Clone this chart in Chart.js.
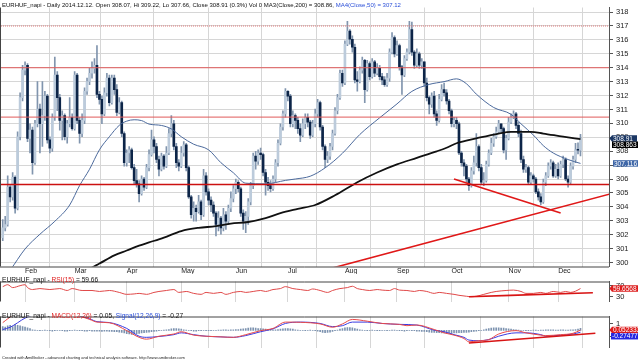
<!DOCTYPE html>
<html>
<head>
<meta charset="utf-8">
<script src="https://cdn.jsdelivr.net/npm/chart.js@4.4.1/dist/chart.umd.min.js"></script>
<style>
  html, body { margin: 0; padding: 0; background: #fff; }
  #wrap { position: relative; width: 638px; height: 362px; overflow: hidden; background: #fff;
          font-family: "Liberation Sans", Arial, sans-serif; }
  canvas { position: absolute; left: 0; }
  .ttl { position: absolute; left: 2px; font-size: 6.6px; line-height: 7px; color: #111; white-space: nowrap; }
  .main { font-size: 6px; }
  .red { color: #e02020; }
  .blue { color: #2b4fd8; }
  .foot { position: absolute; left: 2px; top: 355px; font-size: 8px; color: #222; white-space: nowrap;
          transform: scale(0.5); transform-origin: 0 0; }
</style>
</head>
<body>
<div id="wrap">
  <canvas id="cMain" width="638" height="274" style="top:0"></canvas>
  <canvas id="cRsi" width="638" height="35" style="top:274px"></canvas>
  <canvas id="cMacd" width="638" height="46" style="top:309px"></canvas>
  <div class="ttl main" style="top:2px">EURHUF_napi - Daily 2014.12.12. Open 308.07, Hi 309.22, Lo 307.66, Close 308.91 (0.3%) Vol 0 MA3(Close,200) = 308.86, <span class="blue">MA4(Close,50) = 307.12</span></div>
  <div class="ttl" style="top:275.5px">EURHUF_napi - <span class="red">RSI(15)</span> = 59.66</div>
  <div class="ttl" style="top:311.5px">EURHUF_napi - <span class="red">MACD(12,26)</span> = 0.05, <span class="blue">Signal(12,26,9)</span> = -0.27</div>
  <div class="foot">Created with AmiBroker - advanced charting and technical analysis software. http://www.amibroker.com</div>
</div>
<script>
// ── Data ─────────────────────────────────────────────────────
// day index 0 = 2014-01-21, last = 2014-12-12
const monthLabels = ['Feb', 'Mar', 'Apr', 'May', 'Jun', 'Jul', 'Aug', 'Sep', 'Oct', 'Nov', 'Dec'];
const monthStart = [9, 29, 50, 72, 94, 115, 138, 159, 181, 204, 224];
const priceTicks = [300, 301, 302, 303, 304, 305, 306, 307, 308, 309, 310, 311, 312, 313, 314, 315, 316, 317, 318];

const firstOpen = 301.79;
const closes = [
  302.49, 302.73, 305.42, 304.71, 306.12, 303.90, 309.04, 311.85, 313.83, 314.18,
  308.92, 309.51, 307.17, 309.97, 311.03, 309.97, 310.56, 311.96, 308.81, 308.22,
  310.44, 313.48, 311.85, 310.21, 310.56, 309.04, 309.97, 310.44, 309.62, 313.48,
  310.21, 309.27, 310.21, 312.31, 313.01, 313.60, 313.95, 314.18, 312.08, 311.73,
  310.68, 312.20, 313.25, 311.49, 313.25, 312.43, 310.79, 311.49, 309.27, 307.17,
  307.87, 308.10, 306.82, 305.88, 305.65, 304.95, 306.00, 305.42, 306.82, 307.75,
  308.81, 308.34, 307.40, 306.70, 307.64, 306.93, 307.87, 309.27, 309.97, 308.34,
  307.17, 306.93, 307.87, 308.45, 306.82, 304.71, 303.43, 303.90, 303.66, 304.36,
  303.43, 306.23, 305.07, 304.48, 304.13, 303.55, 302.73, 303.19, 302.49, 303.43,
  302.96, 303.90, 304.60, 305.30, 305.77, 305.30, 303.55, 302.96, 303.31, 304.36,
  305.53, 307.64, 307.29, 307.87, 307.75, 306.47, 305.77, 305.53, 305.30, 306.00,
  307.17, 308.57, 309.74, 310.68, 312.31, 311.96, 309.97, 310.56, 310.21, 309.62,
  309.16, 309.97, 310.44, 310.09, 309.16, 309.97, 310.68, 311.49, 309.74, 308.34,
  307.40, 307.64, 308.34, 309.27, 310.91, 311.85, 313.60, 312.90, 315.70, 316.64,
  316.05, 315.47, 313.13, 313.01, 313.83, 314.53, 312.43, 314.30, 313.36, 314.42,
  313.60, 313.95, 313.36, 313.13, 312.78, 313.25, 315.12, 316.17, 315.00, 315.59,
  314.07, 313.48, 314.65, 315.12, 316.75, 315.12, 314.18, 315.00, 314.18, 314.42,
  312.90, 311.85, 311.38, 311.96, 310.68, 310.21, 311.73, 312.43, 312.20, 311.61,
  310.91, 309.97, 310.21, 309.97, 307.87, 307.17, 306.93, 306.00, 305.53, 306.58,
  307.17, 308.34, 306.82, 305.77, 305.88, 307.05, 307.87, 308.57, 309.04, 309.39,
  309.97, 309.62, 308.10, 308.92, 310.09, 310.44, 310.68, 309.86, 309.27, 307.40,
  306.70, 306.82, 305.77, 306.23, 306.00, 305.07, 304.71, 304.36, 305.77, 306.23,
  306.93, 307.17, 306.23, 306.70, 306.23, 307.05, 307.40, 306.00, 305.77, 306.93,
  307.40, 308.10, 308.07, 308.91
];
const highs = [
  303.08, 303.31, 306.23, 305.53, 306.47, 306.23, 309.39, 312.20, 314.18, 314.42,
  314.30, 309.97, 309.74, 310.21, 313.01, 311.38, 313.01, 312.31, 312.08, 309.04,
  310.68, 314.77, 313.72, 312.08, 310.91, 310.68, 310.21, 311.85, 310.68, 313.72,
  313.60, 310.44, 310.68, 312.55, 313.25, 313.95, 314.42, 314.65, 315.59, 312.31,
  311.96, 312.55, 313.60, 313.48, 313.48, 313.48, 312.78, 311.85, 311.61, 309.39,
  308.10, 308.34, 308.22, 307.05, 306.70, 305.88, 306.23, 306.12, 307.05, 308.10,
  309.51, 309.04, 308.57, 307.64, 307.87, 307.75, 308.34, 309.62, 310.56, 310.21,
  308.57, 307.40, 308.34, 308.69, 308.57, 306.93, 304.83, 304.36, 304.13, 304.83,
  304.48, 306.70, 306.47, 305.30, 304.71, 304.36, 303.66, 303.66, 303.31, 303.90,
  303.66, 304.13, 305.07, 305.53, 306.00, 305.88, 305.42, 303.78, 303.66, 304.60,
  305.77, 307.87, 307.99, 308.10, 308.22, 307.87, 306.70, 306.12, 305.88, 306.23,
  307.40, 308.81, 309.97, 310.91, 312.50, 312.36, 312.08, 310.91, 310.68, 310.44,
  309.97, 310.33, 310.68, 310.68, 310.21, 310.21, 311.03, 311.73, 311.61, 309.86,
  308.45, 307.99, 308.57, 309.51, 311.14, 312.08, 313.83, 313.83, 315.94, 317.34,
  316.75, 316.29, 315.70, 313.72, 314.07, 314.77, 314.60, 314.53, 314.42, 314.65,
  314.53, 314.30, 314.18, 313.60, 313.36, 313.60, 315.35, 316.52, 316.29, 315.94,
  315.70, 314.18, 314.88, 315.35, 317.34, 317.29, 315.24, 315.35, 315.12, 314.65,
  314.42, 313.25, 311.96, 312.20, 312.31, 310.91, 312.08, 312.78, 312.90, 312.43,
  311.73, 311.03, 310.44, 310.44, 310.09, 307.99, 307.40, 307.05, 306.12, 306.82,
  307.64, 309.27, 308.45, 307.05, 306.47, 307.29, 308.10, 308.92, 309.27, 309.74,
  310.21, 309.97, 309.74, 309.16, 310.44, 310.68, 310.91, 310.79, 310.09, 309.51,
  307.64, 307.05, 306.93, 306.47, 306.35, 306.12, 305.30, 304.95, 306.00, 306.47,
  307.17, 307.40, 307.29, 307.05, 307.17, 307.29, 307.64, 307.52, 306.23, 307.17,
  307.64, 308.57, 308.60, 309.22
];
const lows = [
  301.56, 302.26, 302.61, 304.36, 304.48, 303.55, 303.78, 308.81, 311.61, 313.48,
  308.69, 307.87, 306.35, 307.05, 309.74, 307.87, 308.34, 310.21, 308.57, 307.87,
  307.99, 310.21, 310.91, 309.51, 308.81, 308.81, 308.57, 309.74, 309.51, 309.51,
  309.97, 308.57, 309.04, 309.97, 312.08, 312.78, 313.25, 313.60, 311.85, 311.38,
  309.97, 310.56, 311.96, 311.26, 311.38, 312.08, 310.56, 310.68, 309.04, 306.93,
  306.93, 307.17, 306.70, 305.65, 305.42, 304.36, 304.83, 305.18, 305.30, 306.58,
  307.64, 307.87, 307.17, 306.23, 306.58, 306.70, 306.82, 307.75, 309.04, 308.10,
  306.82, 306.58, 306.82, 307.64, 306.58, 304.60, 303.19, 302.96, 302.96, 303.55,
  303.08, 303.31, 304.83, 304.13, 303.66, 303.31, 301.91, 302.26, 302.03, 302.26,
  302.38, 302.73, 303.66, 304.36, 304.95, 305.07, 303.31, 302.38, 302.14, 302.73,
  304.13, 305.30, 306.70, 307.05, 307.40, 306.23, 304.83, 305.18, 305.07, 305.18,
  305.77, 306.93, 308.45, 309.51, 310.44, 311.61, 309.74, 309.74, 309.62, 309.27,
  308.69, 309.04, 309.62, 309.74, 308.92, 309.04, 309.74, 310.44, 309.51, 308.10,
  306.82, 307.17, 307.40, 308.10, 309.16, 310.68, 311.73, 312.66, 312.78, 315.59,
  315.70, 315.12, 312.90, 312.31, 312.90, 313.60, 311.49, 312.31, 313.13, 313.25,
  313.36, 313.48, 313.13, 312.78, 312.66, 312.66, 313.01, 315.00, 314.77, 314.88,
  313.83, 312.08, 313.36, 314.53, 315.00, 314.88, 313.95, 314.07, 313.95, 313.95,
  312.66, 311.61, 310.68, 311.14, 310.44, 309.86, 310.09, 311.61, 311.96, 311.38,
  310.68, 309.74, 309.74, 309.62, 307.75, 306.93, 306.23, 305.77, 305.18, 305.42,
  306.35, 306.93, 306.58, 305.65, 305.53, 305.77, 306.93, 307.75, 308.34, 308.92,
  309.27, 309.39, 307.87, 307.40, 308.81, 309.97, 310.33, 309.62, 309.04, 307.17,
  306.47, 306.47, 305.65, 305.65, 305.77, 304.95, 304.48, 304.13, 304.25, 305.53,
  306.12, 306.70, 306.12, 306.12, 306.00, 306.12, 306.82, 305.88, 305.42, 305.65,
  306.70, 307.17, 307.80, 307.66
];

// moving averages: [day, value]
const ma200 = [[32, 299.30], [34, 299.45], [39, 299.92], [45, 300.51], [50, 300.86], [55, 301.21], [59, 301.44],
  [65, 301.79], [72, 302.26], [79, 302.49], [86, 302.61], [92, 302.80], [99, 302.91], [106, 303.19], [112, 303.55],
  [119, 303.85], [126, 304.13], [134, 304.83], [143, 305.77], [151, 306.47], [159, 307.05], [167, 307.52],
  [175, 307.99], [179, 308.25], [183, 308.57], [191, 308.92], [200, 309.27], [205, 309.39], [213, 309.39],
  [218, 309.27], [226, 309.04], [233, 308.86]];
const ma50 = [[0, 298.80], [3, 299.45], [9, 300.97], [15, 302.03], [21, 302.96], [27, 304.13], [31, 305.53],
  [35, 306.70], [39, 308.10], [43, 309.04], [47, 309.86], [50, 310.16], [53, 310.26], [56, 310.20], [59, 309.95],
  [64, 309.85], [68, 309.60], [72, 309.04], [77, 308.50], [83, 308.10], [88, 307.17], [93, 306.45], [98, 305.70],
  [106, 305.65], [114, 305.90], [118, 306.00], [124, 306.20], [130, 306.80], [137, 307.85], [144, 309.20],
  [152, 310.40], [159, 311.40], [165, 312.30], [172, 312.80], [178, 313.00], [183, 313.20], [187, 312.85],
  [191, 312.10], [198, 311.14], [205, 310.65], [209, 309.97], [214, 309.16], [218, 308.40], [222, 307.87],
  [228, 307.40], [233, 307.12]];

const levelDotted = 317;
const levelThin = [314, 310.45];
const levelThick = 305.6;
const trendUp = [[130, 299.46], [245, 304.93]];
const trendDown = [[182, 306.0], [225, 303.55]];

const rsiTicks = [70, 30];
const rsi = [[0, 66.5], [2, 73.6], [4, 63], [7, 70], [9, 73.6], [10, 63], [12, 56], [15, 59.5], [19, 56], [23, 59.5],
  [26, 52.5], [28, 59.5], [32, 52.5], [36, 52.5], [39, 49], [43, 52.5], [47, 45.5], [50, 38.5], [53, 40], [55, 42],
  [58, 38.5], [61, 45.5], [63, 49], [66, 52.5], [69, 56], [71, 45.5], [74, 49], [77, 42], [80, 38.5], [82, 45.5],
  [85, 42], [88, 45.5], [90, 38.5], [93, 45.5], [96, 49], [98, 45.5], [101, 49], [104, 52.5], [106, 49], [109, 56],
  [112, 59.5], [114, 66.5], [117, 59.5], [120, 56], [123, 52.5], [125, 58], [128, 52.5], [131, 45.5], [133, 52.5],
  [136, 59.5], [139, 63], [141, 68], [143, 59.5], [145, 56], [148, 52.5], [151, 56], [153, 54], [156, 52.5],
  [158, 59.5], [160, 54], [163, 52.5], [166, 49], [168, 52.5], [171, 49], [174, 42], [176, 45.5], [179, 42],
  [182, 38.5], [184, 35], [187, 31.5], [189, 30], [191, 31.5], [194, 38.5], [197, 45.5], [199, 49], [203, 52.5],
  [206, 54], [209, 49], [211, 42], [214, 42], [217, 45.5], [219, 42], [222, 49], [225, 45.5], [227, 49],
  [229, 45.5], [231, 50], [233, 59.66]];
const rsiTrend = [[188, 30], [238, 44.1]];

const macdTicks = [1, 0, -1, -2];
const macd = [[0, 1.2], [4, 2.3], [8, 2.9], [14, 2.9], [22, 2.8], [30, 2.3], [35, 1.7], [38, 1.28], [43, 1.18],
  [50, -0.03], [55, -1.06], [58, -1.34], [63, -0.89], [69, -0.55], [72, -0.2], [77, -0.72], [82, -0.89],
  [88, -0.99], [93, -1.06], [98, -0.65], [104, -0.03], [109, 0.31], [114, 1.28], [120, 1.25], [128, 1.0],
  [133, 0.49], [137, 1.0], [141, 1.69], [147, 1.42], [153, 1.07], [160, 0.93], [163, 0.73], [167, 0.83],
  [174, 0.14], [178, -0.37], [182, -0.72], [186, -1.24], [188, -1.75], [192, -1.58], [196, -1.41], [200, -0.55],
  [207, -0.03], [211, -0.37], [217, -0.72], [219, -0.79], [225, -0.65], [230, -0.44], [233, 0.05]];
const signal = [[0, 0.14], [3, 0.49], [6, 1.18], [9, 1.9], [14, 2.5], [22, 2.7], [30, 2.3], [35, 1.8], [38, 1.35],
  [43, 1.21], [50, 0.31], [55, -0.89], [58, -1.06], [63, -0.93], [69, -0.65], [72, -0.37], [77, -0.65],
  [82, -0.89], [88, -0.99], [93, -1.06], [98, -0.79], [104, -0.2], [109, 0.25], [114, 1.07], [120, 1.28],
  [128, 1.07], [133, 0.59], [137, 0.73], [141, 1.28], [147, 1.28], [153, 1.07], [160, 0.93], [167, 0.83],
  [174, 0.04], [178, -0.2], [182, -0.65], [186, -1.06], [188, -1.48], [192, -1.58], [196, -1.41], [200, -0.89],
  [207, -0.37], [211, -0.37], [217, -0.65], [219, -0.89], [225, -0.72], [230, -0.55], [233, -0.27]];
const macdHist = [
  0.6, 0.5, 0.7, 0.8, 0.6, 0.9, 0.8, 0.7, 0.6, 0.5, 0.4, 0.3,
  0.1, 0.05, 0, -0.05, 0, 0.05, 0, -0.05, -0.1, -0.05, 0, 0, -0.05, -0.1, -0.1, -0.05, 0, 0.05, 0, -0.05,
  -0.05, -0.1, -0.1, -0.05, -0.1, -0.1,
  -0.1, -0.1, -0.15, -0.1, -0.1, -0.15, -0.15, -0.2, -0.2, -0.25, -0.3,
  -0.4, -0.5, -0.55, -0.6, -0.55, -0.5, -0.45, -0.4, -0.35,
  -0.3, -0.25, -0.2, -0.15, -0.1, -0.05, 0, 0.05, 0.1, 0.15,
  0.25, 0.3, 0.3, 0.25, 0.2,
  0.1, 0.05, 0, -0.05, -0.1, -0.1, -0.05, -0.05, 0, -0.05, -0.05, -0.05, 0, 0,
  0.05, 0.05, 0.1, 0.1, 0.05, 0.1, 0.1, 0.15, 0.15,
  0.2, 0.25, 0.3, 0.35, 0.4, 0.4, 0.35, 0.3, 0.3, 0.25, 0.2,
  0.15, 0.1, 0.1, 0.1, 0.15, 0.2,
  0.25, 0.3, 0.3, 0.25, 0.2, 0.1, 0.05, 0,
  0, -0.05, 0, 0.05, 0, -0.05, -0.1,
  -0.2, -0.3, -0.35, -0.3, -0.25, -0.15, -0.05, 0.05,
  0.2, 0.3, 0.4, 0.45, 0.45, 0.4, 0.3, 0.2, 0.1,
  0.05, 0, -0.05, 0, 0.05, 0, -0.05, -0.05, 0, 0, -0.05, 0, 0.05, 0.05, 0,
  -0.05, -0.05, -0.1, -0.05, 0, -0.05, -0.05, -0.1, -0.1, -0.15, -0.15,
  -0.2, -0.25, -0.3, -0.3, -0.35, -0.35, -0.4, -0.4, -0.45, -0.45, -0.45, -0.4, -0.4, -0.35, -0.35, -0.3, -0.3,
  -0.25, -0.2, -0.15, -0.1, -0.05,
  0, 0.1, 0.2,
  0.3, 0.35, 0.4, 0.4, 0.4, 0.35, 0.35, 0.3, 0.25, 0.2, 0.15, 0.1, 0.05,
  0, 0, -0.05, -0.05, 0, 0.05, 0.05, 0, 0.05, 0.05, 0.1, 0.1, 0.1,
  0.1, 0.05, 0.05, 0.1, 0.1, 0.05, 0.05, 0.1, 0.1, 0.15, 0.2, 0.32
];
const macdTrend = [[188, -1.92], [239, -0.44]];

// ── Helpers ──────────────────────────────────────────────────
Chart.defaults.font.family = '"Liberation Sans", Arial, sans-serif';
const GRID = '#d6d6d6', AXIS = '#555';
const X_MIN = -0.7, X_MAX = 244.5;
const pts = arr => arr.map(([x, y]) => ({ x, y }));
const line = (data, color, width, order, extra) => Object.assign({
  type: 'line', data: pts(data), borderColor: color, borderWidth: width, pointRadius: 0,
  tension: 0.4, cubicInterpolationMode: 'monotone', order, fill: false
}, extra || {});
const hline = (v, color, width, order, dash) => line([[X_MIN, v], [X_MAX, v]], color, width, order, { tension: 0, borderDash: dash || [] });

function xScale(showLabels) {
  return {
    type: 'linear', min: X_MIN, max: X_MAX, offset: false,
    afterBuildTicks: s => { s.ticks = monthStart.map(v => ({ value: v })); },
    ticks: { display: showLabels, autoSkip: false, maxRotation: 0, align: 'start', padding: 0,
             font: { size: 7 }, color: '#222', callback: (v, i) => monthLabels[i] },
    grid: { color: GRID, drawTicks: false },
    border: { display: false },
    afterFit: s => { s.height = showLabels ? 7.5 : 0; }
  };
}
function yScale(min, max, ticks, showGrid) {
  return {
    type: 'linear', position: 'right', min, max,
    afterBuildTicks: s => { s.ticks = ticks.map(v => ({ value: v })); },
    ticks: { font: { size: 7.5 }, color: '#222', padding: 3 },
    grid: { color: showGrid ? GRID : 'rgba(0,0,0,0)', tickColor: AXIS, tickLength: 4 },
    border: { display: true, color: AXIS },
    afterFit: s => { s.width = 29; }
  };
}

const badgePlugin = {
  id: 'badges',
  afterDraw(chart, args, opts) {
    const { ctx, chartArea, scales } = chart;
    (opts.items || []).forEach(b => {
      const y = scales.y.getPixelForValue(b.v) + (b.dy || 0);
      const bx = chartArea.right + b.x;
      const h = 6.5;
      ctx.save();
      ctx.fillStyle = b.bg;
      ctx.beginPath();
      if (b.arrow) {
        ctx.moveTo(chartArea.right + 0.5, y);
        ctx.lineTo(bx, y - h / 2); ctx.lineTo(bx + b.w, y - h / 2);
        ctx.lineTo(bx + b.w, y + h / 2); ctx.lineTo(bx, y + h / 2);
        ctx.closePath();
      } else {
        ctx.rect(bx, y - h / 2, b.w, h);
      }
      ctx.fill();
      ctx.fillStyle = b.fg;
      ctx.font = '6.5px "Liberation Sans", Arial, sans-serif';
      ctx.textBaseline = 'middle';
      ctx.fillText(b.text, bx + 1, y + 0.5);
      ctx.restore();
    });
  }
};
const framePlugin = {
  id: 'frame',
  afterDraw(chart, args, opts) {
    const { ctx, chartArea: a } = chart;
    ctx.save();
    ctx.strokeStyle = '#444';
    ctx.lineWidth = 1;
    ctx.beginPath();
    ctx.moveTo(0.5, a.top); ctx.lineTo(0.5, a.bottom);
    if (opts.top) { ctx.moveTo(0, a.top + 0.5); ctx.lineTo(a.right, a.top + 0.5); }
    if (opts.bottom) { ctx.moveTo(0, a.bottom + 0.5); ctx.lineTo(a.right, a.bottom + 0.5); }
    ctx.stroke();
    ctx.restore();
  }
};

const baseOpts = (padTop) => ({
  responsive: false, animation: false, events: [],
  layout: { padding: { left: 1, top: padTop, right: 0, bottom: 0 } }
});

// ── Main price chart ─────────────────────────────────────────
const opens = [firstOpen].concat(closes.slice(0, -1));
const UP = '#bccbdb', DOWN = '#0d2548', WICK = '#8195ae';
new Chart(document.getElementById('cMain'), {
  type: 'bar',
  data: {
    datasets: [
      hline(levelDotted, '#e27a7a', 1, 0, [1, 1]),
      hline(levelThin[0], '#e05a5a', 1, 0),
      hline(levelThin[1], '#e05a5a', 1, 0),
      hline(levelThick, '#cc1010', 1.6, 0),
      line(trendUp, '#e01818', 1.6, 0, { tension: 0 }),
      line(trendDown, '#e01818', 1.6, 0, { tension: 0 }),
      line(ma200, '#111', 1.8, 1),
      line(ma50, '#4c6a9c', 1, 1),
      { type: 'bar', data: closes.map((c, i) => ({ x: i, y: [opens[i], c] })),
        backgroundColor: closes.map((c, i) => c >= opens[i] ? UP : DOWN),
        barThickness: 2, minBarLength: 1, grouped: false, order: 2 },
      { type: 'bar', data: highs.map((h, i) => ({ x: i, y: [lows[i], h] })),
        backgroundColor: WICK, barThickness: 1, grouped: false, order: 3 }
    ]
  },
  options: Object.assign(baseOpts(1), {
    plugins: {
      legend: { display: false }, tooltip: { enabled: false },
      frame: { bottom: true },
      badges: { items: [
        { v: closes[closes.length - 1], text: '308.91', bg: '#1b3764', fg: '#fff', arrow: true, x: 3, w: 25 },
        { v: ma200[ma200.length - 1][1], text: '308.863', bg: '#000', fg: '#fff', x: 3, w: 26, dy: 5.5 },
        { v: ma50[ma50.length - 1][1], text: '307.116', bg: '#3f67a8', fg: '#fff', x: 4, w: 25 }
      ] }
    },
    scales: { x: xScale(true), y: yScale(299.71, 318.33, priceTicks, true) }
  }),
  plugins: [badgePlugin, framePlugin]
});

// ── RSI ──────────────────────────────────────────────────────
new Chart(document.getElementById('cRsi'), {
  type: 'line',
  data: {
    datasets: [
      line(rsiTrend, '#d81414', 1.6, 0, { tension: 0 }),
      line(rsi, '#e04848', 1, 1, { tension: 0 })
    ]
  },
  options: Object.assign(baseOpts(0.5), {
    plugins: {
      legend: { display: false }, tooltip: { enabled: false },
      frame: { top: true },
      badges: { items: [{ v: 59.66, text: '59.6568', bg: '#dd1c1c', fg: '#fff', arrow: true, x: 3, w: 26 }] }
    },
    scales: { x: xScale(false), y: yScale(12.5, 85.2, rsiTicks, false) }
  }),
  plugins: [badgePlugin, framePlugin]
});

// ── MACD ─────────────────────────────────────────────────────
new Chart(document.getElementById('cMacd'), {
  type: 'bar',
  data: {
    datasets: [
      line(macdTrend, '#d81414', 1.6, 0, { tension: 0 }),
      line(macd, '#e84a4a', 1, 1),
      line(signal, '#3a3ae0', 1, 1),
      { type: 'bar', data: macdHist.map((v, i) => ({ x: i, y: v })), backgroundColor: '#7d93b0',
        barThickness: 1, grouped: false, order: 2 }
    ]
  },
  options: Object.assign(baseOpts(0.5), {
    plugins: {
      legend: { display: false }, tooltip: { enabled: false },
      frame: { top: true },
      badges: { items: [
        { v: 0.05, text: '0.052333', bg: '#dd1c1c', fg: '#fff', arrow: true, x: 3, w: 26 },
        { v: -0.27, text: '-0.274777', bg: '#2626e0', fg: '#fff', x: 2, w: 27, dy: 4 }
      ] }
    },
    scales: { x: xScale(false), y: yScale(-2.62, 2.14, macdTicks, false) }
  }),
  plugins: [badgePlugin, framePlugin]
});
</script>
</body>
</html>
